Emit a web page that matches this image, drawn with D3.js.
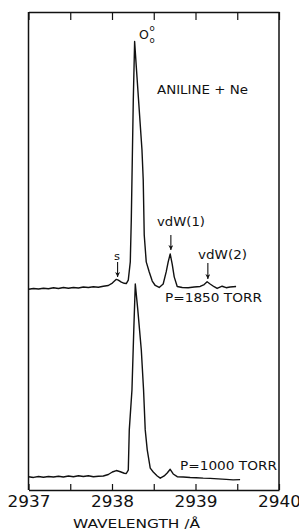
<!DOCTYPE html>
<html>
<head>
<meta charset="utf-8">
<script src="https://cdn.jsdelivr.net/npm/d3@7"></script>
<style>
  body { margin: 0; background: #fff; }
  svg { display: block; }
  text { font-family: "DejaVu Sans", sans-serif; fill: #111; }
</style>
</head>
<body>
<svg id="chart" width="299" height="529"></svg>
<script>
// upper trace, P = 1850 torr (intensity relative to its own baseline, 0-0 peak = 100)
var wl1850 = [2937.000, 2937.060, 2937.120, 2937.179, 2937.239, 2937.299, 2937.359, 2937.418,
  2937.478, 2937.538, 2937.598, 2937.657, 2937.717, 2937.777, 2937.837, 2937.896, 2937.956,
  2938.004, 2938.052, 2938.076, 2938.112, 2938.147, 2938.171, 2938.195, 2938.219, 2938.231,
  2938.243, 2938.255, 2938.271, 2938.291, 2938.318, 2938.359, 2938.374, 2938.386, 2938.410,
  2938.446, 2938.482, 2938.518, 2938.565, 2938.613, 2938.649, 2938.673, 2938.697, 2938.721,
  2938.745, 2938.781, 2938.841, 2938.912, 2938.984, 2939.056, 2939.104, 2939.139, 2939.175,
  2939.223, 2939.259, 2939.319, 2939.367, 2939.414, 2939.486];
var int1850 = [-0.5, -0.2, -0.4, -0.1, -0.3, 0.1, -0.2, 0.2,
  -0.1, 0.2, 0.0, 0.4, 0.2, 0.5, 0.3, 0.7, 1.0,
  2.0, 3.5, 3.2, 2.4, 1.9, 1.8, 3.2, 10.6, 27.6,
  52, 76.3, 100, 89.8, 76.3, 56, 43.8, 21.5, 10.6,
  6.5, 2.8, 1.0, 0.2, 1.6, 6.5, 10.6, 13.8, 9.7,
  4.5, 0.6, 0.2, 0.1, 0.4, 0.6, 1.4, 2.5, 1.6,
  0.5, -0.2, 0.7, 0.1, 0.4, 0.6];

// lower trace, P = 1000 torr
var wl1000 = [2937.000, 2937.060, 2937.120, 2937.179, 2937.239, 2937.299, 2937.359, 2937.418,
  2937.478, 2937.538, 2937.598, 2937.657, 2937.717, 2937.777, 2937.837, 2937.896, 2937.956,
  2938.004, 2938.052, 2938.100, 2938.147, 2938.171, 2938.195, 2938.207, 2938.239, 2938.261,
  2938.279, 2938.309, 2938.351, 2938.378, 2938.398, 2938.422, 2938.458, 2938.494, 2938.542,
  2938.578, 2938.625, 2938.661, 2938.697, 2938.733, 2938.781, 2938.853, 2938.936, 2939.008,
  2939.092, 2939.175, 2939.271, 2939.367, 2939.450, 2939.534];
var int1000 = [0.1, -0.2, 0.2, -0.1, 0.2, 0.0, 0.3, 0.0,
  0.4, 0.1, 0.5, 0.2, 0.5, 0.1, 0.3, 0.4, 1.0,
  2.0, 2.6, 2.1, 1.5, 1.4, 2.8, 19.1, 35.3, 59.7,
  78.3, 67.8, 51.5, 35.3, 19.1, 11.0, 3.6, 2.0, 0.4,
  -0.5, 0.4, 1.6, 3.1, 1.2, 0.1, 0.0, -0.2, -0.3,
  -0.5, -0.6, -0.8, -1.0, -1.2, -1.1];

var offset1850 = 82;
var offset1000 = 5.3;

var tickValues = [2937, 2937.5, 2938, 2938.5, 2939, 2939.5, 2940];
var tickLabels = [2937, 2938, 2939, 2940];

var svg = d3.select("#chart");
var x = d3.scaleLinear().domain([2937, 2940]).range([28.5, 279]);
var y = d3.scaleLinear().domain([0, 194]).range([490, 12]);

// frame
svg.append("line").attr("x1", x(2937)).attr("x2", x(2937)).attr("y1", y(194)).attr("y2", y(0))
  .attr("stroke", "#111").attr("stroke-width", 1.5);
svg.append("line").attr("x1", x(2940)).attr("x2", x(2940)).attr("y1", y(194)).attr("y2", y(0))
  .attr("stroke", "#111").attr("stroke-width", 1.5);

var bottomAxis = d3.axisBottom(x)
  .tickValues(tickValues)
  .tickSizeInner(-6)
  .tickSizeOuter(0)
  .tickFormat(function (d) { return tickLabels.indexOf(d) >= 0 ? d : ""; });

var gb = svg.append("g").attr("transform", "translate(0," + y(0) + ")").call(bottomAxis);
gb.select(".domain").attr("stroke", "#111").attr("stroke-width", 1.5);
gb.selectAll(".tick line").attr("stroke", "#111").attr("stroke-width", 1.2);
gb.selectAll(".tick text")
  .attr("y", 17)
  .attr("dy", 0)
  .attr("font-size", 16.5)
  .attr("font-family", "DejaVu Sans")
  .attr("fill", "#111")
  .attr("textLength", function (d) { return tickLabels.indexOf(d) >= 0 ? 43 : null; })
  .attr("lengthAdjust", "spacingAndGlyphs");

var topAxis = d3.axisTop(x)
  .tickValues(tickValues)
  .tickSizeInner(-8)
  .tickSizeOuter(0)
  .tickFormat("");

var gt = svg.append("g").attr("transform", "translate(0," + y(194) + ")").call(topAxis);
gt.select(".domain").attr("stroke", "#111").attr("stroke-width", 1.5);
gt.selectAll(".tick line").attr("stroke", "#111").attr("stroke-width", 1.2);

// traces
function drawTrace(wls, ints, offset) {
  var pts = wls.map(function (w, i) { return [w, ints[i] + offset]; });
  var line = d3.line()
    .x(function (d) { return x(d[0]); })
    .y(function (d) { return y(d[1]); })
    .curve(d3.curveLinear);
  svg.append("path")
    .datum(pts)
    .attr("d", line)
    .attr("fill", "none")
    .attr("stroke", "#111")
    .attr("stroke-width", 1.4)
    .attr("stroke-linejoin", "round");
}
drawTrace(wl1850, int1850, offset1850);
drawTrace(wl1000, int1000, offset1000);

// arrowhead, pointing along the line direction
svg.append("defs").append("marker")
  .attr("id", "arrow")
  .attr("viewBox", "0 0 10 10")
  .attr("refX", 10).attr("refY", 5)
  .attr("markerWidth", 6).attr("markerHeight", 5)
  .attr("markerUnits", "userSpaceOnUse")
  .attr("orient", "auto")
  .append("path")
  .attr("d", "M0,0 L10,5 L0,10 L3,5 Z")
  .attr("fill", "#111");

function arrow(wl, y1, y2) {
  svg.append("line")
    .attr("x1", x(wl)).attr("x2", x(wl))
    .attr("y1", y1).attr("y2", y2)
    .attr("stroke", "#111").attr("stroke-width", 1.1)
    .attr("marker-end", "url(#arrow)");
}
arrow(2938.067, 262, 277);
arrow(2938.705, 235, 250);
arrow(2939.148, 263, 279);

function label(txt, cx, by, size, len, anchor) {
  return svg.append("text")
    .attr("x", cx).attr("y", by)
    .attr("font-size", size)
    .attr("text-anchor", anchor || "start")
    .attr("textLength", len)
    .attr("lengthAdjust", "spacingAndGlyphs")
    .text(txt);
}

label("s", 114, 260, 11, 6);
label("vdW(1)", 157, 226, 12.5, 48);
label("vdW(2)", 198, 259, 12.5, 49);
label("P=1850 TORR", 165, 301.5, 12.5, 97);
label("P=1000 TORR", 180, 470, 12.5, 97);
label("ANILINE + Ne", 157, 94, 12.5, 91);

// 0-0 band label
var oo = svg.append("text").attr("x", 139).attr("y", 38.5).attr("font-size", 12.5);
oo.append("tspan").text("O");
oo.append("tspan").attr("x", 149.5).attr("y", 31).attr("font-size", 8.5).text("o");
oo.append("tspan").attr("x", 149.5).attr("y", 43).attr("font-size", 8.5).text("o");

// axis title
svg.append("text")
  .attr("x", 73).attr("y", 527.5)
  .attr("font-size", 13)
  .attr("textLength", 127)
  .attr("lengthAdjust", "spacingAndGlyphs")
  .text("WAVELENGTH /Å");
</script>
</body>
</html>
